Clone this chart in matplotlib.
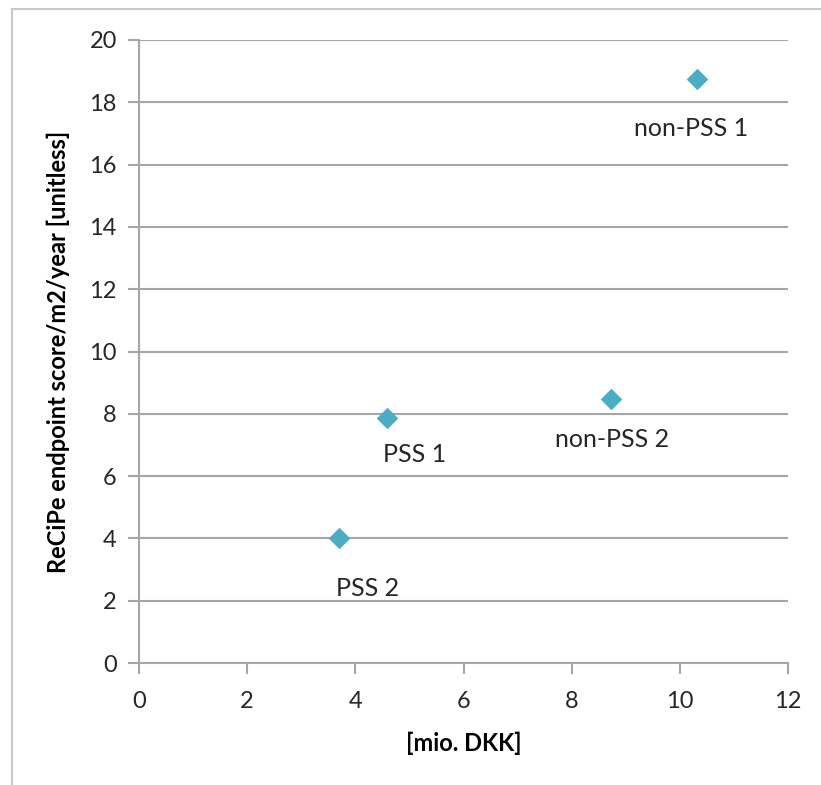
import matplotlib.pyplot as plt
from matplotlib.lines import Line2D

plt.rcParams['font.family'] = ['Lato', 'DejaVu Sans']

names = ['PSS 2', 'PSS 1', 'non-PSS 2', 'non-PSS 1']
cost = [3.70, 4.59, 8.72, 10.31]
score = [4.01, 7.87, 8.48, 18.75]

# label offsets in pixels (dx right, dy down) from each point
offsets = [(-3, 50), (-4, 37), (-56, 41), (-63, 50)]

fig = plt.figure(figsize=(8.21, 7.85), dpi=100)
ax = fig.add_axes([139 / 821, 1 - 663 / 785, 649 / 821, 623 / 785])

grid_c = '#a6a6a6'
ax.scatter(cost, score, marker='D', s=120, color='#4aacc5', zorder=3, linewidths=0)
for n, x, y, (dx, dy) in zip(names, cost, score, offsets):
    ax.annotate(n, (x, y), xytext=(dx, -dy), textcoords='offset pixels',
                ha='left', va='center', fontsize=18, color='#262626')

ax.set_xlim(0, 12)
ax.set_ylim(0, 20)
ax.set_xticks(range(0, 13, 2))
ax.set_yticks(range(0, 21, 2))
ax.grid(axis='y', color=grid_c, lw=1.5)
ax.set_axisbelow(True)
for s in ['top', 'right']:
    ax.spines[s].set_visible(False)
for s in ['left', 'bottom']:
    ax.spines[s].set_color(grid_c)
    ax.spines[s].set_linewidth(1.5)
ax.tick_params(length=8, width=1.5, color=grid_c, labelsize=17, labelcolor='#262626', pad=8)
ax.tick_params(axis='x', pad=12)

ax.set_xlabel('[mio. DKK]', fontsize=17, fontweight='bold', labelpad=14)
ax.set_ylabel('ReCiPe endpoint score/m2/year [unitless]', fontsize=17, fontweight='bold', labelpad=14)

# outer chart frame
fig.add_artist(Line2D([12 / 821, 12 / 821], [0, 1 - 9 / 785], color='#c8c8c8', lw=1.5))
fig.add_artist(Line2D([12 / 821, 1], [1 - 9 / 785, 1 - 9 / 785], color='#c8c8c8', lw=1.5))

fig.savefig('out.png', dpi=100)
